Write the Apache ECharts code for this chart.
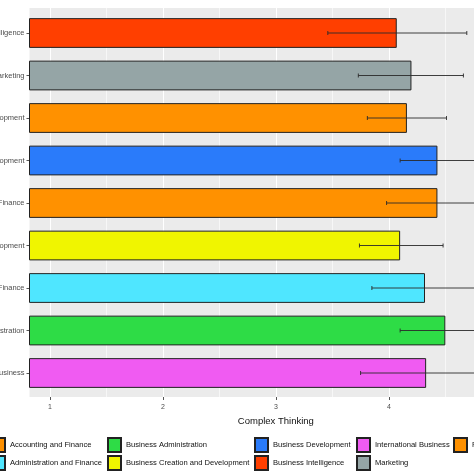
<!DOCTYPE html>
<html>
<head>
<meta charset="utf-8">
<script src="https://cdn.jsdelivr.net/npm/echarts@6/dist/echarts.min.js"></script>
<style>
  html, body { margin: 0; padding: 0; background: #fff; }
  #chart { width: 474px; height: 474px; }
</style>
</head>
<body>
<div id="chart"></div>
<script>
// ==================== DATA ====================
// categories top -> bottom as drawn
const categories = [
  'Business Intelligence', 'Marketing', 'Product Development', 'Business Development',
  'Accounting and Finance', 'Business Creation and Development', 'Administration and Finance',
  'Business Administration', 'International Business'
];
const means   = [4.07, 4.20, 4.16, 4.43, 4.43, 4.10, 4.32, 4.50, 4.33];
const errLow  = [3.46, 3.73, 3.81, 4.10, 3.98, 3.74, 3.85, 4.10, 3.75];
const errHigh = [4.69, 4.66, 4.51, 4.77, 4.89, 4.48, 4.80, 4.91, 4.92];
const colors  = ['#FF3F00', '#95A5A6', '#FF9100', '#2A7BFA', '#FF9100', '#F0F500', '#4FE6FF', '#2EDC46', '#F05BF2'];
const xTicks  = [1, 2, 3, 4];
// legend columns (ggplot fills column-wise, 2 rows)
const legendCols = [
  ['Accounting and Finance', 'Administration and Finance'],
  ['Business Administration', 'Business Creation and Development'],
  ['Business Development', 'Business Intelligence'],
  ['International Business', 'Marketing'],
  ['Product Development']
];
const legendLeft = [-9, 107, 254, 356, 453];

// ==================== CHART ====================
const chart = echarts.init(document.getElementById('chart'), null, { renderer: 'canvas' });
const X_MIN = 0.82, X_MAX = 5.18;
const PANEL_L = 29.5, PANEL_R = 474 - (PANEL_L + (X_MAX - X_MIN) * 113);
const txt = '#4D4D4D', font = 'Liberation Sans, Arial, sans-serif';

const barSeries = categories.map((c, i) => ({
  name: c,
  type: 'bar',
  xAxisIndex: 1, yAxisIndex: 1,
  barWidth: '70%',
  barGap: '-100%',
  itemStyle: { color: colors[i], borderColor: '#222', borderWidth: 1 },
  data: categories.map((_, j) => (j === i ? means[i] : '-')),
  z: 2
}));

const errSeries = {
  type: 'custom',
  xAxisIndex: 1, yAxisIndex: 1,
  data: categories.map((_, i) => [i, errLow[i], errHigh[i]]),
  encode: { y: 0, x: [1, 2] },
  renderItem: (params, api) => {
    const a = api.coord([api.value(1), api.value(0)]);
    const b = api.coord([api.value(2), api.value(0)]);
    const h = 2;
    const st = { stroke: '#2a2a2a', lineWidth: 0.9 };
    return {
      type: 'group',
      children: [
        { type: 'line', shape: { x1: a[0], y1: a[1], x2: b[0], y2: b[1] }, style: st },
        { type: 'line', shape: { x1: a[0], y1: a[1] - h, x2: a[0], y2: a[1] + h }, style: st },
        { type: 'line', shape: { x1: b[0], y1: b[1] - h, x2: b[0], y2: b[1] + h }, style: st }
      ]
    };
  },
  z: 5
};

const legends = legendCols.map((col, k) => ({
  orient: 'vertical',
  left: legendLeft[k], top: 437,
  padding: 0, itemGap: 2,
  itemWidth: 13, itemHeight: 14,
  icon: 'rect',
  textStyle: { color: '#111', fontSize: 7.6, fontFamily: font },
  data: col,
  selectedMode: false
}));

chart.setOption({
  backgroundColor: '#fff',
  animation: false,
  grid: [
    // panel background + vertical grid lines
    { left: PANEL_L, right: PANEL_R, top: 8, height: 389, show: true, backgroundColor: '#EBEBEB', borderWidth: 0,
      containLabel: false, outerBoundsMode: 'none' },
    // bars
    { left: PANEL_L, right: PANEL_R, top: 11.75, height: 382.5, containLabel: false, outerBoundsMode: 'none' }
  ],
  xAxis: [
    {
      gridIndex: 0, type: 'value', min: X_MIN, max: X_MAX,
      axisLine: { show: false },
      axisTick: { show: true, length: 3, lineStyle: { color: '#555' }, customValues: xTicks },
      axisLabel: { color: txt, fontSize: 7, margin: 7, fontFamily: font, customValues: xTicks },
      splitLine: { show: true, lineStyle: { color: '#fff', width: 1 } },
      minorTick: { show: false, splitNumber: 2 },
      minorSplitLine: { show: true, lineStyle: { color: '#fff', width: 0.6 } },
      name: 'Complex Thinking', nameLocation: 'middle', nameGap: 17,
      nameTextStyle: { color: '#111', fontSize: 9.5, fontFamily: font }
    },
    {
      gridIndex: 1, type: 'value', min: X_MIN, max: X_MAX,
      show: false, splitLine: { show: false }
    }
  ],
  yAxis: [
    { gridIndex: 0, type: 'value', show: false, splitLine: { show: false } },
    {
      gridIndex: 1, type: 'category', data: categories, inverse: true,
      axisLine: { show: false },
      axisTick: { show: true, alignWithLabel: true, length: 3, lineStyle: { color: '#555' } },
      axisLabel: { color: txt, fontSize: 7.5, margin: 5, fontFamily: font },
      splitLine: { show: false }
    }
  ],
  legend: legends,
  series: [...barSeries, errSeries]
});
</script>
</body>
</html>
